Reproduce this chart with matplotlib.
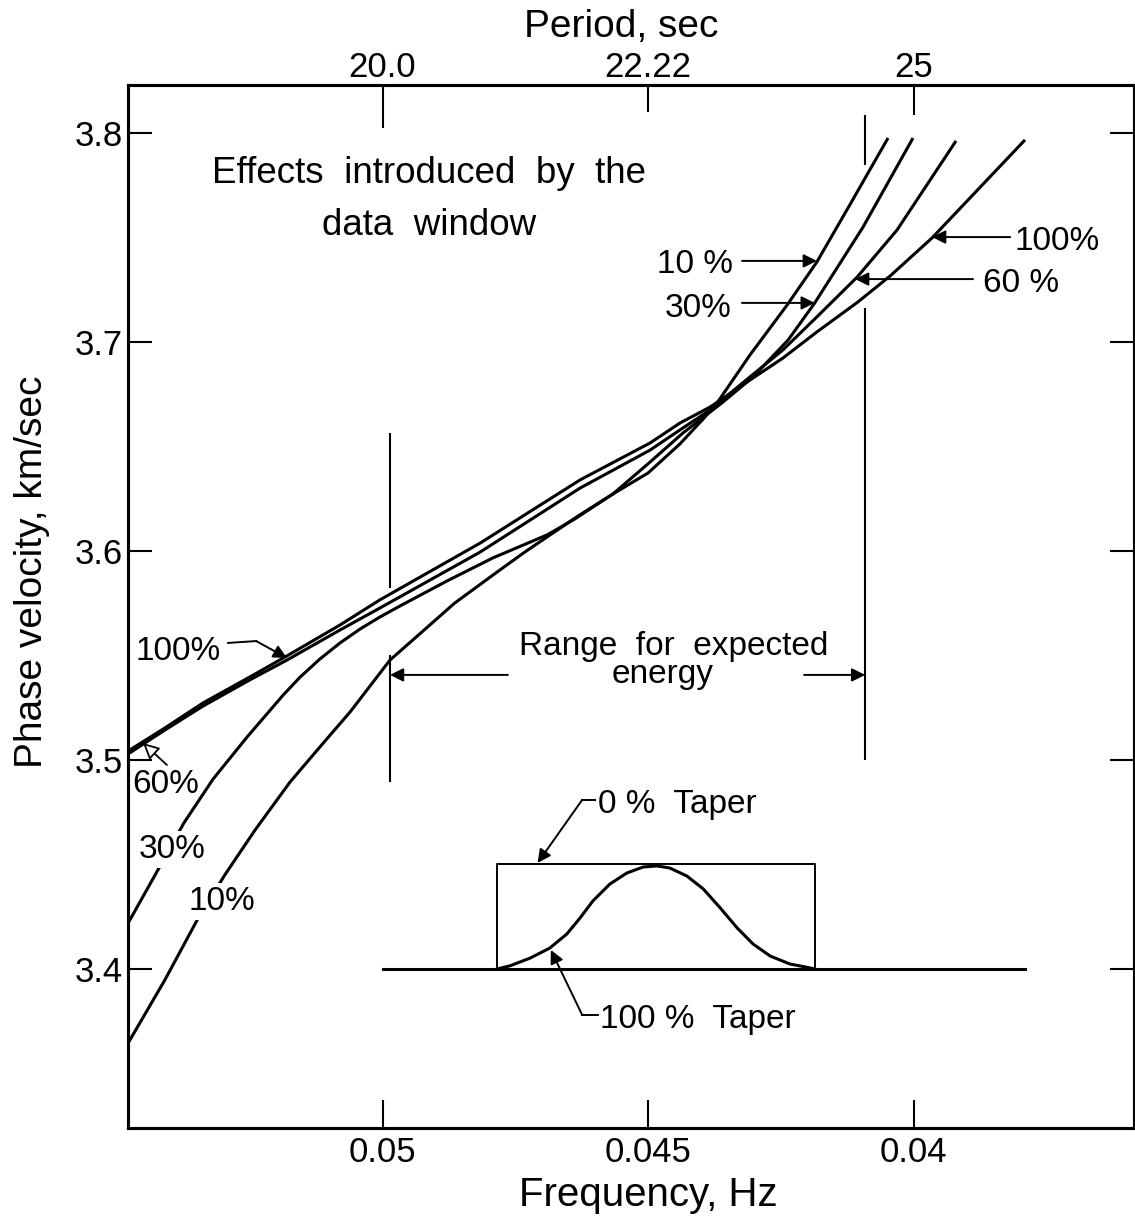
import numpy as np
import matplotlib.pyplot as plt

plt.rcParams['font.family'] = ['Liberation Sans', 'DejaVu Sans']

# phase velocity curves (frequency in Hz, velocity in km/sec) for each taper
freq_10 = [0.05479, 0.05410, 0.05347, 0.05297, 0.05240, 0.05174, 0.05118, 0.05061,
           0.04986, 0.04943, 0.04864, 0.04779, 0.04732, 0.04632, 0.04566, 0.04500,
           0.04440, 0.04396, 0.04370, 0.04308, 0.04238, 0.04182, 0.04120, 0.04048]
vel_10 = [3.3646, 3.3947, 3.4244, 3.4450, 3.4665, 3.4895, 3.5062, 3.5230,
          3.5478, 3.5574, 3.5751, 3.5909, 3.5995, 3.6167, 3.6273, 3.6373,
          3.6512, 3.6632, 3.6708, 3.6938, 3.7177, 3.7383, 3.7656, 3.7976]

freq_30 = [0.05479, 0.05421, 0.05374, 0.05319, 0.05255, 0.05187, 0.05155, 0.05118,
           0.05080, 0.05042, 0.05005, 0.04967, 0.04879, 0.04792, 0.04690, 0.04638,
           0.04566, 0.04496, 0.04434, 0.04361, 0.04302, 0.04236, 0.04186, 0.04095,
           0.04001]
vel_30 = [3.4220, 3.4483, 3.4699, 3.4909, 3.5110, 3.5311, 3.5397, 3.5483,
          3.5560, 3.5627, 3.5684, 3.5737, 3.5856, 3.5967, 3.6077, 3.6153,
          3.6273, 3.6426, 3.6565, 3.6708, 3.6833, 3.7010, 3.7187, 3.7550,
          3.7976]

freq_60 = [0.05479, 0.05410, 0.05338, 0.05250, 0.05180, 0.05080, 0.05005, 0.04816,
           0.04628, 0.04496, 0.04440, 0.04383, 0.04308, 0.04246, 0.04182, 0.04106,
           0.04031, 0.03920]
vel_60 = [3.5029, 3.5143, 3.5258, 3.5383, 3.5478, 3.5622, 3.5727, 3.5995,
          3.6301, 3.6483, 3.6579, 3.6675, 3.6833, 3.6962, 3.7120, 3.7311,
          3.7536, 3.7962]

freq_100 = [0.05479, 0.05410, 0.05338, 0.05250, 0.05180, 0.05080, 0.05005, 0.04816,
            0.04628, 0.04496, 0.04440, 0.04383, 0.04308, 0.04246, 0.04182, 0.04105,
            0.04044, 0.03965, 0.03790]
vel_100 = [3.5043, 3.5153, 3.5273, 3.5397, 3.5498, 3.5646, 3.5766, 3.6038,
           3.6340, 3.6517, 3.6612, 3.6689, 3.6818, 3.6923, 3.7048, 3.7191,
           3.7316, 3.7498, 3.7967]

# sketch of the data windows (inset drawn in the same axes)
base_f = [0.0500, 0.0379]
base_v = [3.40, 3.40]
box_f = [0.04784, 0.04784, 0.04186, 0.04186]
box_v = [3.40, 3.45, 3.45, 3.40]
hann_f = [0.04784, 0.04760, 0.04722, 0.04685, 0.04653, 0.04628, 0.04604, 0.04572,
          0.04540, 0.04509, 0.04483, 0.04459, 0.04427, 0.04396, 0.04364, 0.04332,
          0.04302, 0.04270, 0.04233, 0.04195, 0.04186]
hann_v = [3.4000, 3.4015, 3.4052, 3.4100, 3.4167, 3.4244, 3.4325, 3.4406,
          3.4459, 3.4488, 3.4493, 3.4483, 3.4445, 3.4383, 3.4292, 3.4196,
          3.4119, 3.4062, 3.4024, 3.4005, 3.4000]

# range for expected energy
range_f = [0.04986, 0.04091]

freq_ticks = [0.05, 0.045, 0.04]
freq_labels = ['0.05', '0.045', '0.04']
period_ticks = [20.0, 22.22, 25]
period_labels = ['20.0', '22.22', '25']
vel_ticks = [3.4, 3.5, 3.6, 3.7, 3.8]

fig = plt.figure(figsize=(11.35, 12.16), dpi=100)
ax = fig.add_axes([0.1128, 0.0724, 0.8863, 0.8577])

lw = 2.2
for fr, v in [(freq_10, vel_10), (freq_30, vel_30), (freq_60, vel_60), (freq_100, vel_100)]:
    ax.plot(fr, v, color='black', lw=lw, solid_capstyle='butt', solid_joinstyle='round')

ax.plot(base_f, base_v, color='black', lw=lw)
ax.plot(box_f, box_v, color='black', lw=1.4)
ax.plot(hann_f, hann_v, color='black', lw=lw, solid_joinstyle='round')

# vertical range lines
ax.vlines([range_f[0], range_f[0]], [3.6565, 3.4895], [3.5823, 3.5502], color='black', lw=1.5)
ax.vlines([range_f[1], range_f[1]], [3.7847, 3.5000], [3.8086, 3.7163], color='black', lw=1.5)

arrow = dict(arrowstyle='-|>', color='black', lw=1.4, mutation_scale=20,
             shrinkA=0, shrinkB=0)
ax.annotate('', xy=(range_f[0], 3.5407), xytext=(0.04764, 3.5407), arrowprops=arrow)
ax.annotate('', xy=(range_f[1], 3.5407), xytext=(0.04206, 3.5407), arrowprops=arrow)
ax.text(0.04451, 3.5502, 'Range  for  expected', ha='center', va='baseline', fontsize=24)
ax.text(0.04472, 3.5368, 'energy', ha='center', va='baseline', fontsize=24)

ax.text(0.04912, 3.7761, 'Effects  introduced  by  the', ha='center', va='baseline', fontsize=26.5)
ax.text(0.04912, 3.7512, 'data  window', ha='center', va='baseline', fontsize=26.5)

# labels on the right
ax.text(0.04340, 3.7330, '10 %', ha='right', va='baseline', fontsize=24)
ax.annotate('', xy=(0.04182, 3.7388), xytext=(0.04323, 3.7388), arrowprops=arrow)
ax.text(0.04342, 3.7120, '30%', ha='right', va='baseline', fontsize=24)
ax.annotate('', xy=(0.04186, 3.7187), xytext=(0.04323, 3.7187), arrowprops=arrow)
ax.text(0.03809, 3.7440, '100%', ha='left', va='baseline', fontsize=24)
ax.annotate('', xy=(0.03965, 3.7502), xytext=(0.03818, 3.7502), arrowprops=arrow)
ax.text(0.03869, 3.7239, '60 %', ha='left', va='baseline', fontsize=24)
ax.annotate('', xy=(0.04110, 3.7301), xytext=(0.03888, 3.7301), arrowprops=arrow)

# labels on the left
white = dict(fc='white', ec='none', pad=2)
ax.text(0.05466, 3.5478, '100%', ha='left', va='baseline', fontsize=24)
ax.plot([0.05291, 0.05238], [3.5560, 3.5569], color='black', lw=1.4)
ax.annotate('', xy=(0.05180, 3.5488), xytext=(0.05238, 3.5569), arrowprops=arrow)
ax.text(0.05472, 3.4842, '60%', ha='left', va='baseline', fontsize=24)
ax.annotate('', xy=(0.05451, 3.5081), xytext=(0.05406, 3.4976),
            arrowprops=dict(arrowstyle='-|>', fc='white', ec='black', lw=1.3,
                            mutation_scale=24, shrinkA=0, shrinkB=0))
ax.text(0.05460, 3.4531, '30%', ha='left', va='baseline', fontsize=24, bbox=white)
ax.text(0.05366, 3.4282, '10%', ha='left', va='baseline', fontsize=24, bbox=white)

# taper labels
ax.text(0.04594, 3.4746, '0 %  Taper', ha='left', va='baseline', fontsize=24)
ax.plot([0.04600, 0.04624], [3.4809, 3.4809], color='black', lw=1.4)
ax.annotate('', xy=(0.04708, 3.4507), xytext=(0.04624, 3.4809), arrowprops=arrow)
ax.text(0.04590, 3.3718, '100 %  Taper', ha='left', va='baseline', fontsize=24)
ax.plot([0.04594, 0.04624], [3.3780, 3.3780], color='black', lw=1.4)
ax.annotate('', xy=(0.04683, 3.4091), xytext=(0.04624, 3.3780), arrowprops=arrow)

ax.set_xlim(0.054793, 0.035848)
ax.set_ylim(3.32392, 3.82297)
ax.set_xticks(freq_ticks)
ax.set_xticklabels(freq_labels)
ax.set_yticks(vel_ticks)
ax.set_yticklabels(['%.1f' % v for v in vel_ticks])
ax.tick_params(axis='x', direction='in', length=20, width=1.5, pad=6, labelsize=25)
ax.tick_params(axis='y', direction='in', length=17, width=1.5, pad=4, labelsize=25,
               right=True)
for s in ax.spines.values():
    s.set_linewidth(2.2)

ax.set_xlabel('Frequency, Hz', fontsize=29)
ax.xaxis.set_label_coords(0.517, -0.046)
ax.set_ylabel('Phase velocity, km/sec', fontsize=28)
ax.yaxis.set_label_coords(-0.078, 0.533)

# period axis on top
ax2 = ax.twiny()
ax2.set_xlim(ax.get_xlim())
ax2.set_xticks([1.0 / p for p in period_ticks])
ax2.set_xticklabels(period_labels)
ax2.tick_params(axis='x', direction='in', length=21, width=1.5, pad=0.5, labelsize=25)
for t, ln in zip(ax2.xaxis.get_major_ticks(), [31, 19.5, 21.5]):
    t.tick2line.set_markersize(ln)
ax2.set_xlabel('Period, sec', fontsize=28)
ax2.xaxis.set_label_coords(0.49, 1.046)
for s in ax2.spines.values():
    s.set_linewidth(2.2)

fig.savefig('out.png', dpi=100)
